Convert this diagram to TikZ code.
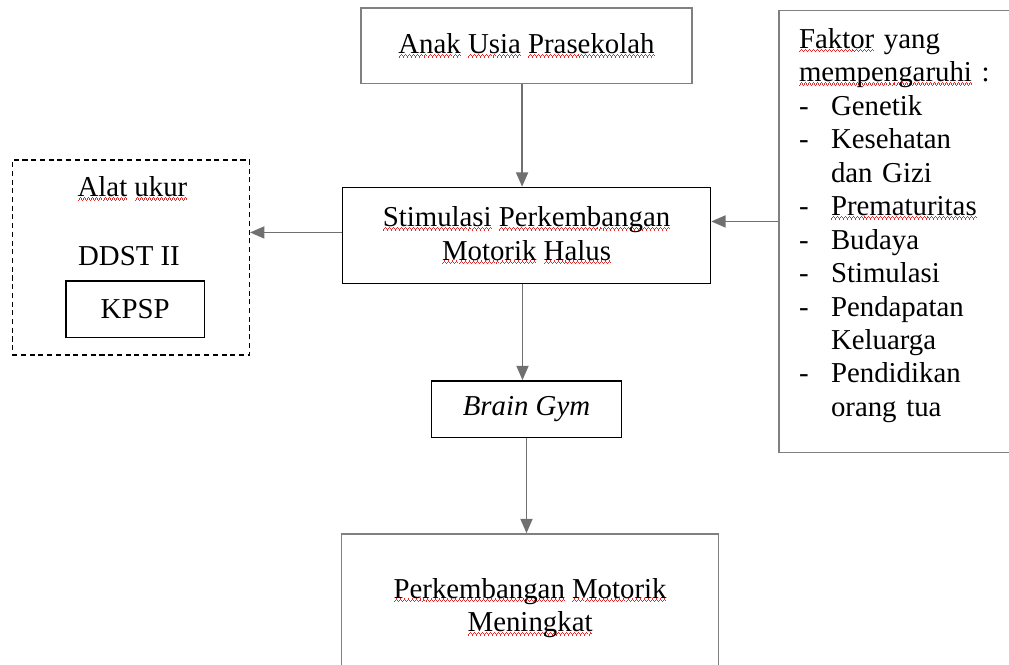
\documentclass[tikz,border=0pt]{standalone}
\usepackage{fontspec}
\setmainfont{Liberation Serif}
\usetikzlibrary{arrows.meta,positioning}
\tikzset{every picture/.style={
  >={Triangle[length=0.36cm,width=0.3cm]}   % Solid triangle tips.
  }
}
\definecolor{boxgray}{RGB}{128,128,128}
\definecolor{arrowgray}{RGB}{112,112,112}
\definecolor{squiggle}{RGB}{230,40,40}

% Spell-check squiggle under a word, and the list dash.
\newsavebox\sqword
\newcommand\wavebit{\hbox{\rule[-2.9pt]{0.7pt}{0.9pt}\rule[-2.0pt]{0.7pt}{0.9pt}%
  \rule[-1.1pt]{0.7pt}{0.9pt}\rule[-2.0pt]{0.7pt}{0.9pt}}}
\newcommand\sq[1]{\leavevmode\sbox\sqword{#1}%
  \rlap{\textcolor{squiggle}{\hbox to\wd\sqword{\xleaders\wavebit\hfil}}}%
  \usebox\sqword}
\newcommand\itm{\makebox[0.8cm][l]{-}}

\begin{document}
\begin{tikzpicture}[
    x=0.025cm, y=-0.025cm,
    font=\fontsize{20.5}{23.8}\selectfont,
    box/.style={
      draw,
      line width=1pt,
      align=center,
      inner sep=0pt
    },
    graybox/.style={
      box,
      draw=boxgray
    },
    flow/.style={
      ->,
      draw=arrowgray,
      line width=1.3pt
    }]

    \useasboundingbox (0,0) rectangle (1009,665);
    \clip (0,0) rectangle (1009,665);

    % Draw the main flow.
    \node[graybox,minimum width=8.275cm,minimum height=1.875cm] (anak)
      at (526.5,45.7) {\sq{Anak} \sq{Usia} \sq{Prasekolah}};
    \node[box,minimum width=9.2cm,minimum height=2.4cm,below=2.57cm of anak]
      (stim) {\sq{Stimulasi} \sq{Perkembangan}\\ \sq{Motorik} \sq{Halus}};
    \node[box,minimum width=4.75cm,minimum height=1.41cm,below=2.4cm of stim]
      (brain) {\textit{Brain Gym}};
    \node[graybox,minimum width=9.43cm,minimum height=3.7cm,
      below=2.38cm of brain,xshift=0.09cm]
      (hasil) {\sq{Perkembangan} \sq{Motorik}\\ \sq{Meningkat}};

    % Draw the measuring tools.
    \node[box,dash pattern=on 3.6pt off 2.6pt,minimum width=5.925cm,
      minimum height=4.875cm] (alat) at (130.8,257.5) {};
    \node[anchor=base] (alatlabel) at (132.5,196.7) {\sq{Alat} \sq{ukur}};
    \node[anchor=base] (ddst) at (129,265) {DDST II};
    \node[box,minimum width=3.46cm,minimum height=1.41cm] (kpsp)
      at (135.2,309.2) {KPSP};

    % Draw the influencing factors.
    \node[graybox,anchor=north west,align=left,text width=8cm,
      inner xsep=0.5cm,minimum height=11.04cm] (faktor) at (778.3,10)
      {\sq{Faktor} yang\\
       \sq{mempengaruhi} :\\
       \itm Genetik\\
       \itm Kesehatan\\
       \hspace*{0.8cm}dan Gizi\\
       \itm \sq{Prematuritas}\\
       \itm Budaya\\
       \itm Stimulasi\\
       \itm Pendapatan\\
       \hspace*{0.8cm}Keluarga\\
       \itm Pendidikan\\
       \hspace*{0.8cm}orang tua\rule[-0.46cm]{0pt}{0pt}};

    % Draw the connections.
    \draw[flow] ([xshift=-0.11cm]anak.south) --
      ([xshift=-0.11cm]anak.south |- stim.north);
    \draw[flow] ([xshift=-0.1cm]stim.south) --
      ([xshift=-0.1cm]stim.south |- brain.north);
    \draw[flow] (brain.south) -- (brain.south |- hasil.north);
    \draw[flow] ([yshift=0.075cm]stim.west) --
      ([yshift=0.075cm]stim.west -| alat.east);
    \draw[flow] ([yshift=0.35cm]stim.east -| faktor.west) --
      ([yshift=0.35cm]stim.east);

  \end{tikzpicture}
\end{document}
